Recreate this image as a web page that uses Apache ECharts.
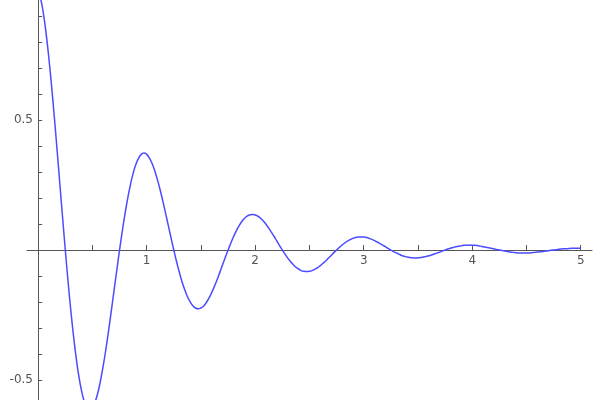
<!DOCTYPE html>
<html>
<head>
<meta charset="utf-8">
<script src="https://cdn.jsdelivr.net/npm/echarts@6/dist/echarts.min.js"></script>
<style>
html,body{margin:0;padding:0;background:#fff;}
#c{width:600px;height:400px;}
</style>
</head>
<body>
<div id="c"></div>
<script>
var xValues = [
0,0.025,0.05,0.075,0.1,0.125,0.15,0.175,0.2,0.225,0.25,0.275,0.3,0.325,0.35,0.375,0.4,0.425,0.45,0.475,
0.5,0.525,0.55,0.575,0.6,0.625,0.65,0.675,0.7,0.725,0.75,0.775,0.8,0.825,0.85,0.875,0.9,0.925,0.95,0.975,
1,1.025,1.05,1.075,1.1,1.125,1.15,1.175,1.2,1.225,1.25,1.275,1.3,1.325,1.35,1.375,1.4,1.425,1.45,1.475,
1.5,1.525,1.55,1.575,1.6,1.625,1.65,1.675,1.7,1.725,1.75,1.775,1.8,1.825,1.85,1.875,1.9,1.925,1.95,1.975,
2,2.025,2.05,2.075,2.1,2.125,2.15,2.175,2.2,2.225,2.25,2.275,2.3,2.325,2.35,2.375,2.4,2.425,2.45,2.475,
2.5,2.525,2.55,2.575,2.6,2.625,2.65,2.675,2.7,2.725,2.75,2.775,2.8,2.825,2.85,2.875,2.9,2.925,2.95,2.975,
3,3.025,3.05,3.075,3.1,3.125,3.15,3.175,3.2,3.225,3.25,3.275,3.3,3.325,3.35,3.375,3.4,3.425,3.45,3.475,
3.5,3.525,3.55,3.575,3.6,3.625,3.65,3.675,3.7,3.725,3.75,3.775,3.8,3.825,3.85,3.875,3.9,3.925,3.95,3.975,
4,4.025,4.05,4.075,4.1,4.125,4.15,4.175,4.2,4.225,4.25,4.275,4.3,4.325,4.35,4.375,4.4,4.425,4.45,4.475,
4.5,4.525,4.55,4.575,4.6,4.625,4.65,4.675,4.7,4.725,4.75,4.775,4.8,4.825,4.85,4.875,4.9,4.925,4.95,4.975,
5];
var yValues = [
1.000,0.963,0.905,0.827,0.732,0.624,0.506,0.381,0.253,0.125,0,-0.119,-0.229,-0.328,-0.414,-0.486,-0.542,-0.583,-0.606,-0.614,
-0.607,-0.584,-0.549,-0.501,-0.444,-0.379,-0.307,-0.231,-0.153,-0.076,0,0.072,0.139,0.199,0.251,0.295,0.329,0.353,0.368,0.373,
0.368,0.354,0.333,0.304,0.269,0.230,0.186,0.140,0.093,0.046,0,-0.044,-0.084,-0.121,-0.152,-0.179,-0.199,-0.214,-0.223,-0.226,
-0.223,-0.215,-0.202,-0.184,-0.163,-0.139,-0.113,-0.085,-0.056,-0.028,0,0.026,0.051,0.073,0.092,0.109,0.121,0.130,0.135,0.137,
0.135,0.130,0.122,0.112,0.099,0.084,0.068,0.052,0.034,0.017,0,-0.016,-0.031,-0.044,-0.056,-0.066,-0.073,-0.079,-0.082,-0.083,
-0.082,-0.079,-0.074,-0.068,-0.060,-0.051,-0.042,-0.031,-0.021,-0.010,0,0.010,0.019,0.027,0.034,0.040,0.045,0.048,0.050,0.050,
0.050,0.048,0.045,0.041,0.036,0.031,0.025,0.019,0.013,0.006,0,-0.006,-0.011,-0.016,-0.021,-0.024,-0.027,-0.029,-0.030,-0.031,
-0.030,-0.029,-0.027,-0.025,-0.022,-0.019,-0.015,-0.012,-0.008,-0.004,0,0.004,0.007,0.010,0.013,0.015,0.016,0.018,0.018,0.019,
0.018,0.018,0.017,0.015,0.013,0.011,0.009,0.007,0.005,0.002,0,-0.002,-0.004,-0.006,-0.008,-0.009,-0.010,-0.011,-0.011,-0.011,
-0.011,-0.011,-0.010,-0.009,-0.008,-0.007,-0.006,-0.004,-0.003,-0.001,0,0.001,0.003,0.004,0.005,0.005,0.006,0.007,0.007,0.007,
0.007];
var xTicks = [0.5,1,1.5,2,2.5,3,3.5,4,4.5,5];
var xLabels = [1,2,3,4,5];
var yTicks = [-0.5,-0.4,-0.3,-0.2,-0.1,0.1,0.2,0.3,0.4,0.5,0.6,0.7,0.8,0.9];
var yLabels = [-0.5,0.5];

var pts = xValues.map(function(x,i){return [x,yValues[i]];});
var chart = echarts.init(document.getElementById('c'));
chart.setOption({
  animation:false,
  backgroundColor:'#fff',
  grid:{left:27,right:8,top:0,bottom:0,containLabel:false,outerBoundsMode:'none'},
  xAxis:{
    type:'value', min:-0.103, max:5.104,
    axisLine:{onZero:true,lineStyle:{color:'#555',width:1}},
    axisTick:{show:true,inside:true,length:5,customValues:xTicks,lineStyle:{color:'#555'}},
    axisLabel:{customValues:xLabels,color:'#555',fontSize:12,fontFamily:'DejaVu Sans',margin:-145},
    splitLine:{show:false}
  },
  yAxis:{
    type:'value', min:-0.577, max:0.962,
    axisLine:{onZero:true,lineStyle:{color:'#555',width:1}},
    axisTick:{show:true,inside:true,length:4,customValues:yTicks,lineStyle:{color:'#555'}},
    axisLabel:{customValues:yLabels,color:'#555',fontSize:12,fontFamily:'DejaVu Sans',margin:-6},
    splitLine:{show:false}
  },
  series:[{
    type:'line', data:pts, smooth:true, showSymbol:false, clip:true,
    lineStyle:{color:'#4b4bff',width:1.5}
  }]
});
</script>
</body>
</html>
